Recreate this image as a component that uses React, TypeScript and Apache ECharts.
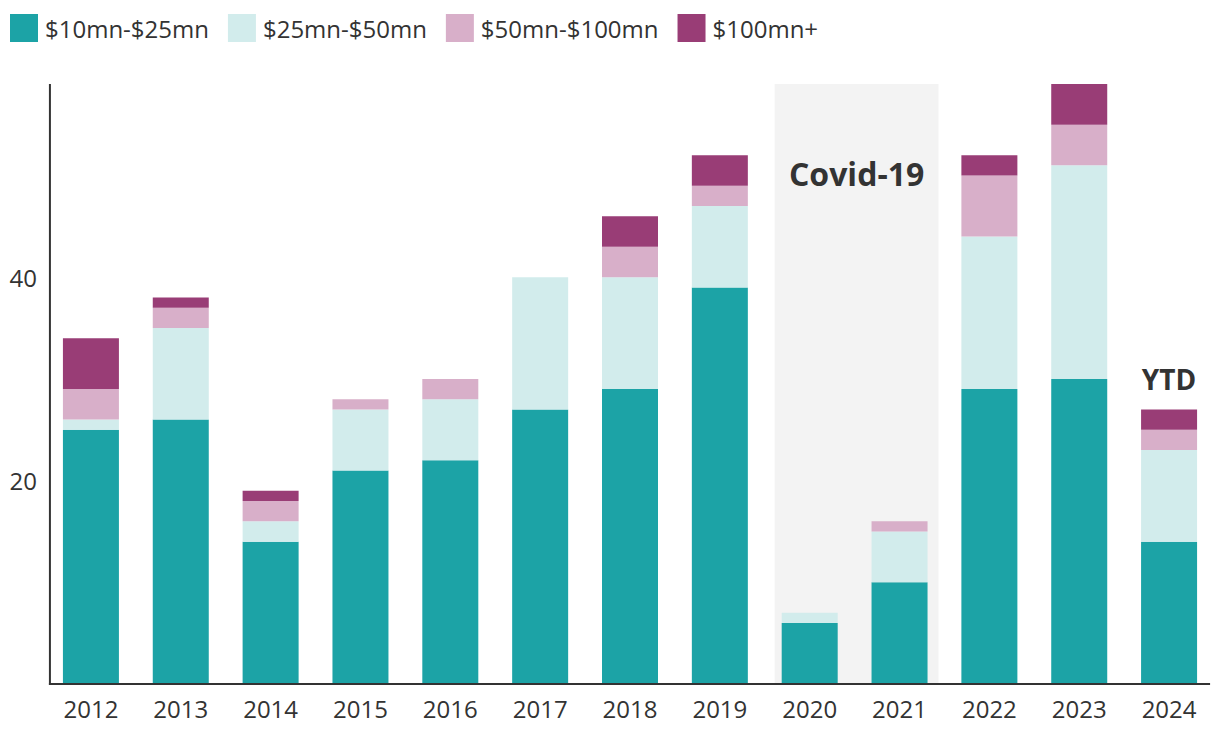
import React, { useEffect, useRef } from "react";
import * as echarts from "echarts";

const years = ["2012", "2013", "2014", "2015", "2016", "2017", "2018", "2019", "2020", "2021", "2022", "2023", "2024"];
const s10to25 = [25, 26, 14, 21, 22, 27, 29, 39, 6, 10, 29, 30, 14];
const s25to50 = [1, 9, 2, 6, 6, 13, 11, 8, 1, 5, 15, 21, 9];
const s50to100 = [3, 2, 2, 1, 2, 0, 3, 2, 0, 1, 6, 4, 2];
const s100plus = [5, 1, 1, 0, 0, 0, 3, 3, 0, 0, 2, 4, 2];
const seriesNames = ["$10mn-$25mn", "$25mn-$50mn", "$50mn-$100mn", "$100mn+"];
const colors = ["#1ca3a6", "#d2ecec", "#d8afc9", "#993d76"];
const yMax = 59;

const FONT = "'Open Sans', 'Noto Sans', sans-serif";
const TXT = "#333333";

export default function App() {
  const ref = useRef<HTMLDivElement>(null);
  useEffect(() => {
    if (!ref.current) return;
    const chart = echarts.init(ref.current, undefined, { renderer: "svg" });
    const data = [s10to25, s25to50, s50to100, s100plus];
    chart.setOption({
      animation: false,
      textStyle: { fontFamily: FONT },
      color: colors,
      legend: {
        left: 5,
        top: 9,
        itemWidth: 28,
        itemHeight: 28,
        itemGap: 19,
        icon: "rect",
        textStyle: { fontSize: 24, color: TXT, fontFamily: FONT, padding: [0, 0, 0, 2] },
        data: seriesNames,
      },
      grid: { left: 46, right: 6, top: 84, bottom: 66 },
      xAxis: {
        type: "category",
        data: years,
        axisLine: { show: false },
        axisTick: { show: false },
        axisLabel: { fontSize: 24, color: TXT, margin: 12, fontFamily: FONT },
      },
      yAxis: {
        type: "value",
        min: 0,
        max: yMax,
        interval: 20,
        axisLine: { show: false },
        axisTick: { show: false },
        splitLine: { show: false },
        axisLabel: {
          fontSize: 24,
          color: TXT,
          margin: 9,
          fontFamily: FONT,
          showMinLabel: false,
          showMaxLabel: false,
        },
      },
      series: seriesNames.map((name, i) => ({
        name,
        type: "bar",
        stack: "total",
        barWidth: 56,
        z: 3,
        itemStyle: { color: colors[i] },
        data: data[i],
      })),
    });

    const px = (cat: string, v: number) =>
      chart.convertToPixel({ gridIndex: 0 }, [cat, v]) as number[];
    const p2020 = px("2020", 0);
    const p2021 = px("2021", 0);
    const pTop = px("2020", yMax);
    const pCovid = px("2020", 50.2);
    const p2024 = px("2024", s10to25[12] + s25to50[12] + s50to100[12] + s100plus[12]);
    const pFirst = px("2012", 0);
    const pLast = px("2024", 0);
    const axisX = pFirst[0] - 41;
    const axisRight = pLast[0] + 41;

    chart.setOption({
      graphic: [
        {
          type: "rect",
          z: 0,
          shape: {
            x: p2020[0] - 35,
            y: pTop[1],
            width: p2021[0] + 39 - (p2020[0] - 35),
            height: p2020[1] - pTop[1],
          },
          style: { fill: "#f3f3f3" },
        },
        {
          type: "text",
          z: 5,
          x: (p2020[0] + p2021[0]) / 2 + 2,
          y: pCovid[1],
          style: {
            text: "Covid-19",
            fontSize: 32,
            fontWeight: "bold",
            fontFamily: FONT,
            fill: TXT,
            align: "center",
            verticalAlign: "middle",
          },
        },
        {
          type: "text",
          z: 5,
          x: p2024[0],
          y: p2024[1] - 30,
          style: {
            text: "YTD",
            fontSize: 28,
            fontWeight: "bold",
            fontFamily: FONT,
            fill: TXT,
            align: "center",
            verticalAlign: "middle",
          },
        },
        {
          type: "line",
          z: 6,
          shape: { x1: axisX, y1: pTop[1], x2: axisX, y2: pFirst[1] + 1 },
          style: { stroke: TXT, lineWidth: 2 },
        },
        {
          type: "line",
          z: 6,
          shape: { x1: axisX - 1, y1: pFirst[1], x2: axisRight, y2: pFirst[1] },
          style: { stroke: TXT, lineWidth: 2 },
        },
      ],
    });

    return () => chart.dispose();
  }, []);
  return <div ref={ref} style={{ position: "absolute", left: 0, top: 0, width: 1220, height: 750 }} />;
}
